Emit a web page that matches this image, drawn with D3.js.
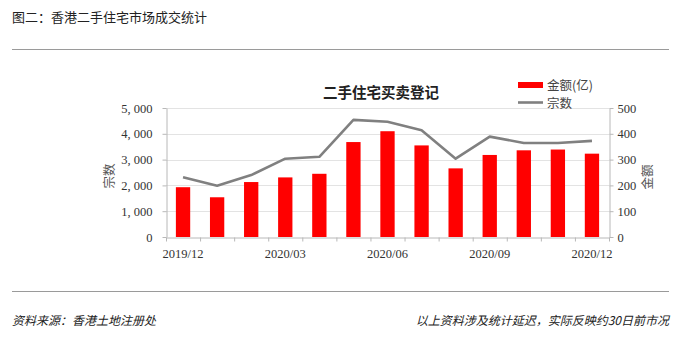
<!DOCTYPE html>
<html>
<head>
<meta charset="utf-8">
<script src="https://cdn.jsdelivr.net/npm/d3@7/dist/d3.min.js"></script>
<style>
  html, body { margin: 0; padding: 0; background: #fff; }
  svg { display: block; }
</style>
</head>
<body>
<svg id="chart" width="683" height="347"></svg>
<script>
// Monthly second-hand residential registrations, Hong Kong
const months = ["2019/12","2020/01","2020/02","2020/03","2020/04","2020/05","2020/06",
                "2020/07","2020/08","2020/09","2020/10","2020/11","2020/12"];
const amountYi = [193, 154, 213, 231, 245, 368, 410, 355, 266, 318, 336, 339, 323];   // 金额(亿)
const dealCount = [2320, 1985, 2400, 3035, 3110, 4540, 4465, 4135, 3035, 3890, 3645, 3645, 3725]; // 宗数
const countTicks = [0, 1000, 2000, 3000, 4000, 5000];
const amountTicks = [0, 100, 200, 300, 400, 500];
const shownMonths = ["2019/12", "2020/03", "2020/06", "2020/09", "2020/12"];

const svg = d3.select("#chart");
const cjk = "'Noto Sans CJK SC', 'Noto Sans', sans-serif";
const serif = "'Liberation Serif', 'DejaVu Serif', serif";

const plot = { left: 166, right: 609, top: 108, bottom: 237 };

// header
svg.append("text").attr("x", 12).attr("y", 22)
  .style("font-family", cjk).style("font-size", "13px").attr("fill", "#222")
  .text("图二：香港二手住宅市场成交统计");
svg.append("line").attr("x1", 12).attr("x2", 669).attr("y1", 49.5).attr("y2", 49.5)
  .attr("stroke", "#9a9a9a").attr("stroke-width", 1.2);

// footer
svg.append("line").attr("x1", 12).attr("x2", 669).attr("y1", 291.5).attr("y2", 291.5)
  .attr("stroke", "#9a9a9a").attr("stroke-width", 1.2);
svg.append("text").attr("x", 12).attr("y", 325)
  .style("font-family", cjk).style("font-size", "12px").style("font-style", "italic").attr("fill", "#222")
  .text("资料来源：香港土地注册处");
svg.append("text").attr("x", 669).attr("y", 325).attr("text-anchor", "end")
  .style("font-family", cjk).style("font-size", "12px").style("font-style", "italic").attr("fill", "#222")
  .text("以上资料涉及统计延迟，实际反映约30日前市况");

// scales
const x = d3.scaleBand().domain(months).range([plot.left, plot.right])
  .paddingInner(0.58).paddingOuter(0.29);
const yCount = d3.scaleLinear().domain([0, 5000]).range([plot.bottom, plot.top]);
const yAmount = d3.scaleLinear().domain([0, 500]).range([plot.bottom, plot.top]);
const boundary = d3.scaleLinear().domain([0, months.length]).range([plot.left, plot.right]);

// gridlines
svg.append("g").selectAll("line").data(countTicks.slice(1)).join("line")
  .attr("x1", plot.left).attr("x2", plot.right)
  .attr("y1", d => Math.round(yCount(d)) + 0.5).attr("y2", d => Math.round(yCount(d)) + 0.5)
  .attr("stroke", "#e3e3e3").attr("stroke-width", 1);

// bars
svg.append("g").selectAll("rect").data(months).join("rect")
  .attr("x", d => x(d)).attr("width", x.bandwidth())
  .attr("y", (d, i) => yAmount(amountYi[i]))
  .attr("height", (d, i) => plot.bottom - yAmount(amountYi[i]))
  .attr("fill", "#ff0000");

// line
const line = d3.line()
  .x((d, i) => x(months[i]) + x.bandwidth() / 2)
  .y(d => yCount(d));
svg.append("path").datum(dealCount).attr("d", line)
  .attr("fill", "none").attr("stroke", "#808080").attr("stroke-width", 2.6)
  .attr("stroke-linejoin", "round");

function styleAxis(g) {
  g.select(".domain").attr("stroke", "#b8b8b8");
  g.selectAll(".tick line").attr("stroke", "#b8b8b8");
  g.selectAll(".tick text").style("font-family", serif).style("font-size", "12.5px").attr("fill", "#333");
}

// left axis
svg.append("g").attr("transform", `translate(${plot.left + 0.5},0)`)
  .call(d3.axisLeft(yCount).tickValues(countTicks).tickSize(4).tickSizeOuter(0).tickPadding(10)
    .tickFormat(d => d3.format(",")(d).replace(",", ", ")))
  .call(styleAxis);

// right axis
svg.append("g").attr("transform", `translate(${plot.right + 0.5},0)`)
  .call(d3.axisRight(yAmount).tickValues(amountTicks).tickSize(4).tickSizeOuter(0).tickPadding(4))
  .call(styleAxis);

// bottom axis: ticks at category boundaries
svg.append("g").attr("transform", `translate(0,${plot.bottom + 0.5})`)
  .call(d3.axisBottom(boundary).tickValues(d3.range(months.length + 1)).tickSize(4)
    .tickSizeOuter(0).tickFormat(""))
  .call(styleAxis);
// bottom axis labels
svg.append("g").attr("transform", `translate(0,${plot.bottom + 0.5})`)
  .call(d3.axisBottom(x).tickValues(shownMonths).tickSize(0).tickPadding(12))
  .call(g => g.select(".domain").remove())
  .call(styleAxis);

// axis titles
svg.append("text").attr("transform", "translate(114,176) rotate(-90)").attr("text-anchor", "middle")
  .style("font-family", cjk).style("font-size", "12.5px").attr("fill", "#555").text("宗数");
svg.append("text").attr("transform", "translate(652,177) rotate(-90)").attr("text-anchor", "middle")
  .style("font-family", cjk).style("font-size", "12.5px").attr("fill", "#555").text("金额");

// chart title
svg.append("text").attr("x", 381).attr("y", 98).attr("text-anchor", "middle")
  .style("font-family", cjk).style("font-size", "14.5px").style("font-weight", "bold").attr("fill", "#222")
  .text("二手住宅买卖登记");

// legend
const legend = svg.append("g");
legend.append("rect").attr("x", 518).attr("y", 82).attr("width", 25).attr("height", 6).attr("fill", "#ff0000");
legend.append("text").attr("x", 547).attr("y", 89.5)
  .style("font-family", cjk).style("font-size", "12.5px").attr("fill", "#444").text("金额(亿)");
legend.append("line").attr("x1", 518).attr("x2", 543).attr("y1", 102.5).attr("y2", 102.5)
  .attr("stroke", "#808080").attr("stroke-width", 2.6);
legend.append("text").attr("x", 547).attr("y", 107.5)
  .style("font-family", cjk).style("font-size", "12.5px").attr("fill", "#444").text("宗数");
</script>
</body>
</html>
